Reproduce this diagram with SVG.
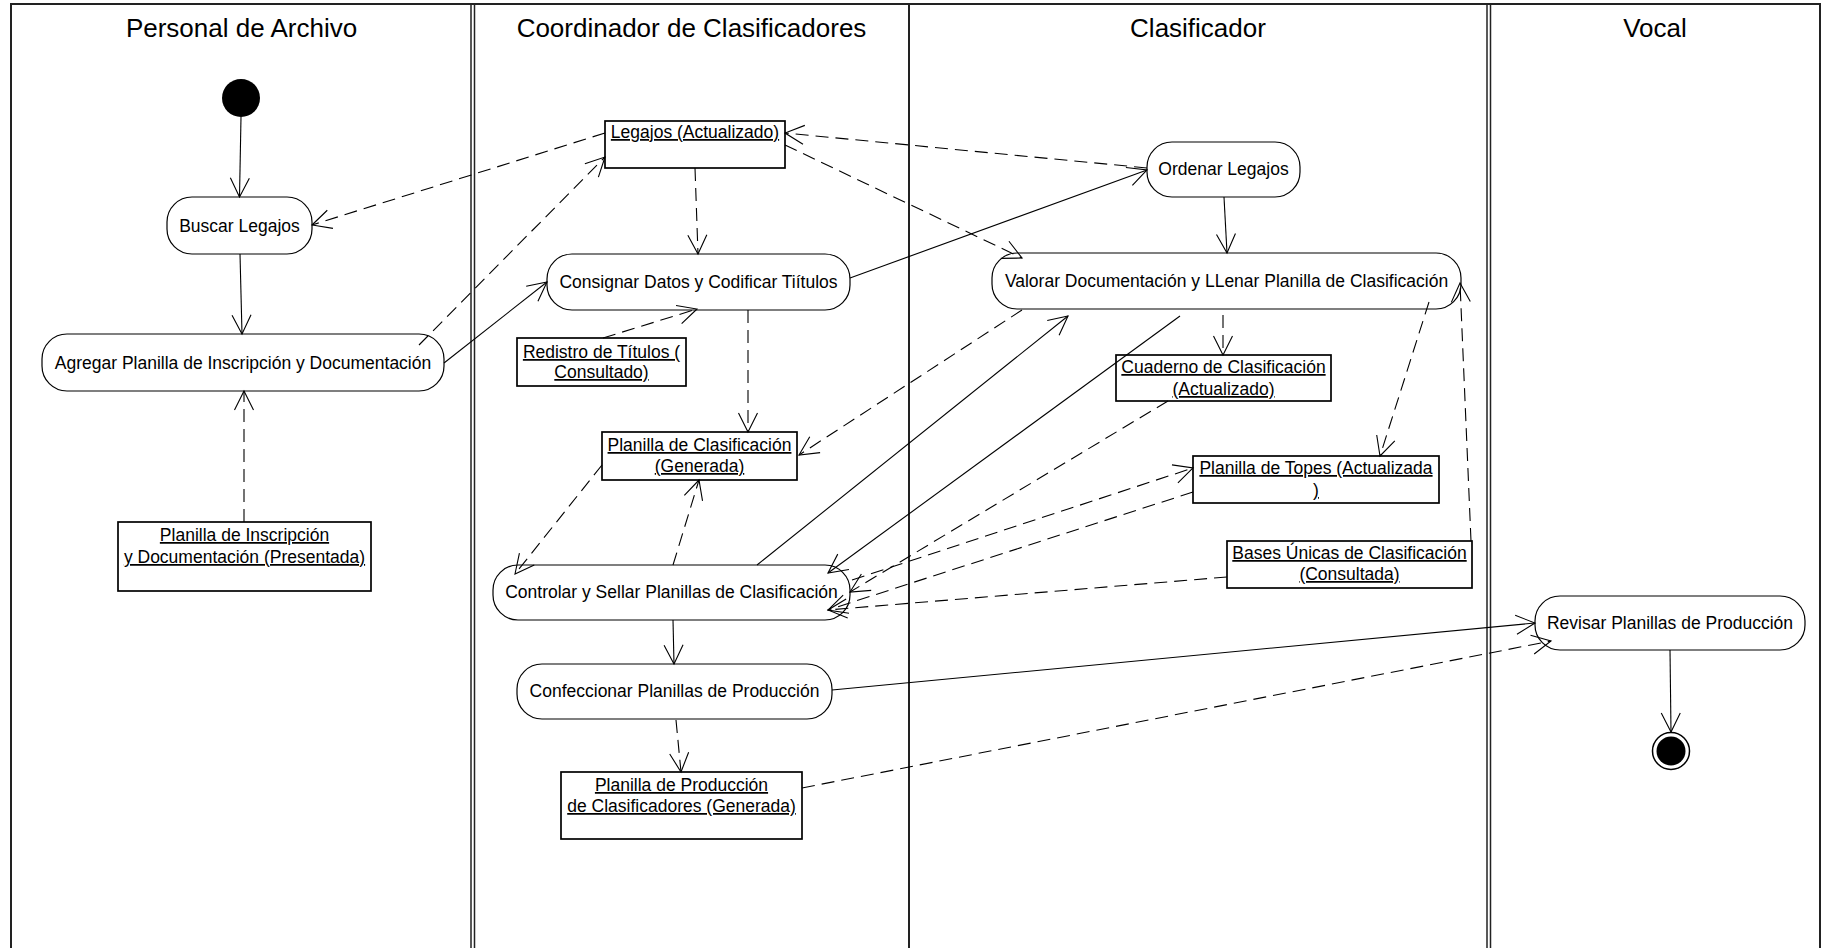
<svg xmlns="http://www.w3.org/2000/svg" width="1826" height="948" viewBox="0 0 1826 948">
<style>
  text { font-family: "Liberation Sans", Arial, sans-serif; fill: #000; }
  .title { font-size: 26px; text-anchor: middle; }
  .lbl { font-size: 17.5px; text-anchor: middle; }
  .obj text { text-decoration: underline; }
  .act rect { fill: #fff; stroke: #000; stroke-width: 1.2; }
  .obj rect { fill: #fff; stroke: #000; stroke-width: 1.7; }
  .lane { stroke: #222; fill: none; }
  .flow { stroke: #000; stroke-width: 1.1; fill: none; marker-end: url(#open); }
  .dep { stroke-dasharray: 13 7; }
</style>
<defs>
  <marker id="open" markerUnits="userSpaceOnUse" markerWidth="30" markerHeight="30" refX="20" refY="11" orient="auto" overflow="visible">
    <path d="M1,1.5 L20,11 L1,20.5" fill="none" stroke="#000" stroke-width="1.1"/>
  </marker>
</defs>
<rect width="1826" height="948" fill="#fff"/>

<!-- swimlanes -->
<g id="lanes">
  <line class="lane" x1="10" y1="4" x2="1821" y2="4" stroke-width="2"/>
  <line class="lane" x1="11" y1="4" x2="11" y2="948" stroke-width="2"/>
  <line class="lane" x1="471" y1="4" x2="471" y2="948" stroke-width="1.5"/>
  <line class="lane" x1="474.5" y1="4" x2="474.5" y2="948" stroke-width="1.5"/>
  <line class="lane" x1="909" y1="4" x2="909" y2="948" stroke-width="2"/>
  <line class="lane" x1="1487" y1="4" x2="1487" y2="948" stroke-width="1.5"/>
  <line class="lane" x1="1490.5" y1="4" x2="1490.5" y2="948" stroke-width="1.5"/>
  <line class="lane" x1="1820" y1="4" x2="1820" y2="948" stroke-width="2"/>
  <text class="title" x="241.5" y="37">Personal de Archivo</text>
  <text class="title" x="691.5" y="37">Coordinador de Clasificadores</text>
  <text class="title" x="1198" y="37">Clasificador</text>
  <text class="title" x="1655" y="37">Vocal</text>
</g>

<!-- activity nodes -->
<g id="inicio"><circle cx="241" cy="98" r="19" fill="#000"/></g>
<g id="buscar-legajos" class="act">
  <rect x="167" y="197" width="145" height="57" rx="25"/>
  <text class="lbl" x="239.5" y="231.5">Buscar Legajos</text>
</g>
<g id="agregar-planilla" class="act">
  <rect x="42" y="334" width="402" height="57" rx="25"/>
  <text class="lbl" x="243" y="368.5">Agregar Planilla de Inscripción y Documentación</text>
</g>
<g id="planilla-inscripcion" class="obj">
  <rect x="118" y="522" width="253" height="69"/>
  <text class="lbl" x="244.5" y="541">Planilla de Inscripción</text>
  <text class="lbl" x="244.5" y="563">y Documentación (Presentada)</text>
</g>
<g id="legajos" class="obj">
  <rect x="605" y="121" width="180" height="47"/>
  <text class="lbl" x="695" y="138">Legajos (Actualizado)</text>
</g>
<g id="consignar" class="act">
  <rect x="547" y="254" width="303" height="56" rx="25"/>
  <text class="lbl" x="698.5" y="288">Consignar Datos y Codificar Tiítulos</text>
</g>
<g id="registro-titulos" class="obj">
  <rect x="517" y="338" width="169" height="48"/>
  <text class="lbl" x="601.5" y="358">Redistro de Títulos (</text>
  <text class="lbl" x="601.5" y="378">Consultado)</text>
</g>
<g id="planilla-clasificacion" class="obj">
  <rect x="602" y="432" width="195" height="48"/>
  <text class="lbl" x="699.5" y="451">Planilla de Clasificación</text>
  <text class="lbl" x="699.5" y="472">(Generada)</text>
</g>
<g id="controlar" class="act">
  <rect x="493" y="565" width="357" height="55" rx="25"/>
  <text class="lbl" x="671.5" y="598">Controlar y Sellar Planillas de Clasificación</text>
</g>
<g id="confeccionar" class="act">
  <rect x="517" y="664" width="315" height="55" rx="25"/>
  <text class="lbl" x="674.5" y="697">Confeccionar Planillas de Producción</text>
</g>
<g id="planilla-produccion" class="obj">
  <rect x="561" y="772" width="241" height="67"/>
  <text class="lbl" x="681.5" y="791">Planilla de Producción</text>
  <text class="lbl" x="681.5" y="812">de Clasificadores (Generada)</text>
</g>
<g id="ordenar-legajos" class="act">
  <rect x="1147" y="142" width="153" height="55" rx="25"/>
  <text class="lbl" x="1223.5" y="175">Ordenar Legajos</text>
</g>
<g id="valorar" class="act">
  <rect x="992" y="253" width="469" height="56" rx="25"/>
  <text class="lbl" x="1226.5" y="287">Valorar Documentación y LLenar Planilla de Clasificación</text>
</g>
<g id="cuaderno" class="obj">
  <rect x="1116" y="355" width="215" height="46"/>
  <text class="lbl" x="1223.5" y="373">Cuaderno de Clasificación</text>
  <text class="lbl" x="1223.5" y="395">(Actualizado)</text>
</g>
<g id="planilla-topes" class="obj">
  <rect x="1193" y="456" width="246" height="47"/>
  <text class="lbl" x="1316" y="474">Planilla de Topes (Actualizada</text>
  <text class="lbl" x="1316" y="496">)</text>
</g>
<g id="bases-unicas" class="obj">
  <rect x="1227" y="541" width="245" height="47"/>
  <text class="lbl" x="1349.5" y="559">Bases Únicas de Clasificación</text>
  <text class="lbl" x="1349.5" y="580">(Consultada)</text>
</g>
<g id="revisar" class="act">
  <rect x="1535" y="596" width="270" height="54" rx="25"/>
  <text class="lbl" x="1670" y="629">Revisar Planillas de Producción</text>
</g>
<g id="fin">
  <circle cx="1671" cy="751" r="18.5" fill="#fff" stroke="#000" stroke-width="1.5"/>
  <circle cx="1671" cy="751" r="14.5" fill="#000"/>
</g>

<!-- control flows (solid) and object flows (dashed) -->
<g id="connectors">
  <path class="flow" d="M241,117 L239.5,197"/>
  <path class="flow" d="M240,254 L242,334"/>
  <path class="flow" d="M444,363 L547,282"/>
  <path class="flow" d="M850,278 L1147,170"/>
  <path class="flow" d="M1224,197 L1227,253"/>
  <path class="flow" d="M757,565 L1068,316"/>
  <path class="flow" d="M1180,316 L828,573"/>
  <path class="flow" d="M673,620 L674,664"/>
  <path class="flow" d="M832,690 L1535,623"/>
  <path class="flow" d="M1670,650 L1671,732"/>

  <path class="flow dep" d="M244,522 L244,391"/>
  <path class="flow dep" d="M419,345 L605,157"/>
  <path class="flow dep" d="M605,133 L312,225"/>
  <path class="flow dep" d="M695,168 L698,254"/>
  <path class="flow dep" d="M603,338 L697,309"/>
  <path class="flow dep" d="M748,310 L748,432"/>
  <path class="flow dep" d="M1147,168 L785,133"/>
  <path class="flow dep" d="M785,145 L1022,258"/>
  <path class="flow dep" d="M1022,310 L799,455"/>
  <path class="flow dep" d="M1223,315 L1223,355"/>
  <path class="flow dep" d="M1429,302 L1380,456"/>
  <path class="flow dep" d="M1471,541 L1460,283"/>
  <path class="flow dep" d="M1168,401 L850,592"/>
  <path class="flow dep" d="M852,580 L1193,468"/>
  <path class="flow dep" d="M1193,492 L828,610"/>
  <path class="flow dep" d="M1227,577 L828,610"/>
  <path class="flow dep" d="M602,465 L515,574"/>
  <path class="flow dep" d="M673,565 L699,480"/>
  <path class="flow dep" d="M676,720 L681,772"/>
  <path class="flow dep" d="M802,788 L1551,641"/>
</g>
</svg>
